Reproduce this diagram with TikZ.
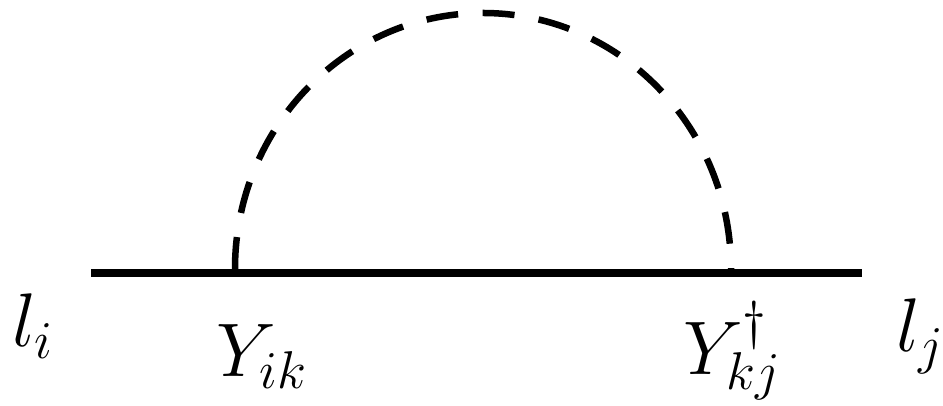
\documentclass[tikz,border=0pt]{standalone}
\usepackage{fix-cm}
\usepackage{amsmath}
\usepackage{tikz}
\usetikzlibrary{positioning}

\begin{document}
\begin{tikzpicture}[x=1pt, y=1pt,
    fermion/.style={line width=8pt},
    scalar/.style={line width=6.5pt, dash pattern=on 32pt off 24.5pt},
    label style/.style={inner sep=0pt, anchor=base west, font=\fontsize{76}{84}\selectfont}
  ]
  \useasboundingbox (0,0) rectangle (943,406);

  % Fermion line
  \coordinate (lend) at (91,133);
  \coordinate (rend) at (862,133);
  \draw[fermion] (lend) -- (rend);

  % Vertices and scalar loop
  \coordinate (vik) at (235,137);
  \coordinate (vkj) at (731,137);
  \draw[scalar] (vik) arc[start angle=180, end angle=0, x radius=248, y radius=256];

  % Labels
  \node[label style] (li)  at (12,59)  {$l_i$};
  \node[label style] (yik) at (216,29) {$Y_{ik}$};
  \node[label style] (ykj) at (683,31) {$Y^{\dagger}_{kj}$};
  \node[label style] (lj)  at (896,54) {$l_j$};

\end{tikzpicture}
\end{document}
